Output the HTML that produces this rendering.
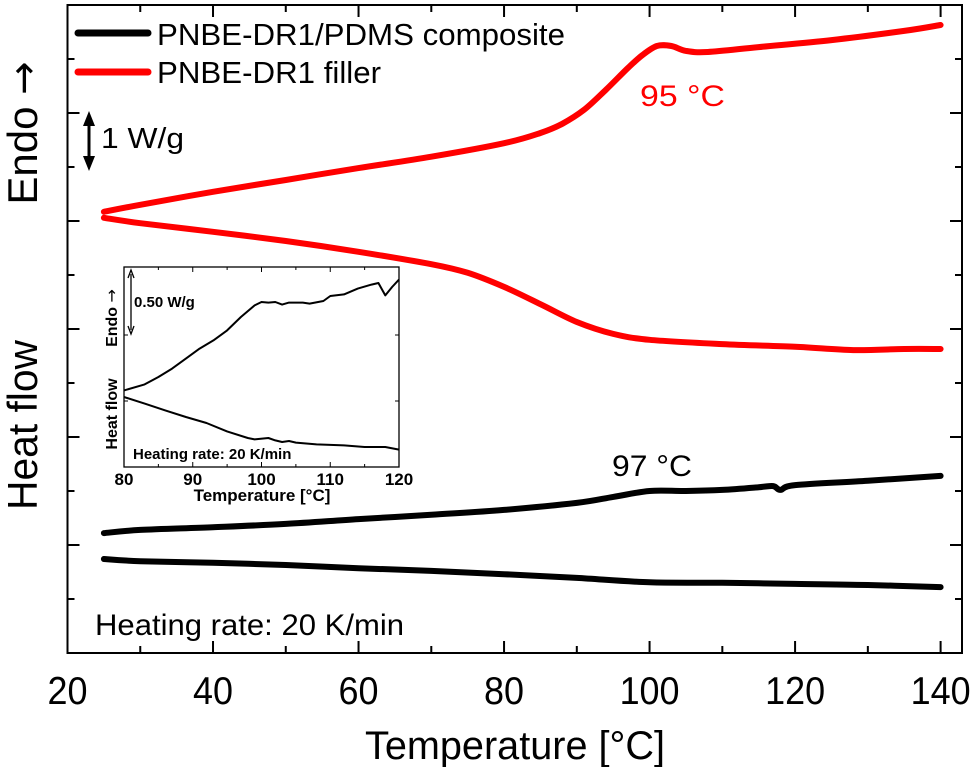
<!DOCTYPE html>
<html><head><meta charset="utf-8"><style>
html,body{margin:0;padding:0;background:#fff;}
svg{display:block;font-family:"Liberation Sans",Arial,sans-serif;}
</style></head><body>
<svg id="chart" width="980" height="767" viewBox="0 0 980 767" xmlns="http://www.w3.org/2000/svg">
<g id="main"></g>
<g id="inset"></g>
</svg>
<script>
// main chart data
const mainRedUpT=[25,30,40,50,60,70,80,85,88,91,94,97,99,101,103,105,108,115,125,135,140];
const mainRedUpV=[8.17,8.30,8.54,8.76,8.98,9.19,9.44,9.63,9.80,10.06,10.43,10.83,11.07,11.24,11.24,11.15,11.13,11.22,11.35,11.52,11.63];
const mainRedLoT=[25,30,40,50,60,70,75,80,85,90,95,100,110,120,128,135,140];
const mainRedLoV=[8.06,7.96,7.80,7.63,7.43,7.20,7.04,6.78,6.46,6.13,5.91,5.80,5.72,5.67,5.61,5.63,5.63];
const mainBlkUpT=[25,30,40,50,60,70,80,90,95,100,105,110,115,117,118,120,130,140];
const mainBlkUpV=[2.22,2.28,2.33,2.39,2.48,2.56,2.65,2.78,2.89,3.00,3.00,3.02,3.07,3.09,3.02,3.11,3.19,3.28];
const mainBlkLoT=[25,30,40,50,60,70,80,90,100,110,120,130,140];
const mainBlkLoV=[1.74,1.70,1.67,1.63,1.57,1.52,1.46,1.39,1.31,1.30,1.28,1.26,1.22];
const mainXTicks=[20,40,60,80,100,120,140];
// inset data
const insUpT=[80,83,85,87,89,91,93,95,97,99,100,101,102,103,104,106,107,109,110,112,114,116,117,118,119,120];
const insUpV=[3.83,4.13,4.5,4.92,5.42,5.92,6.33,6.83,7.5,8.08,8.25,8.22,8.25,8.12,8.22,8.22,8.17,8.3,8.55,8.63,8.92,9.12,9.2,8.58,9.0,9.37];
const insLoT=[80,83,86,89,92,95,98,99,101,102,103,104,105,108,112,115,118,120];
const insLoV=[3.5,3.17,2.83,2.5,2.2,1.78,1.45,1.38,1.45,1.33,1.25,1.3,1.22,1.13,1.08,1.0,1.0,0.87];
const insXTicks=[80,90,100,110,120];

const NS='http://www.w3.org/2000/svg';
function mk(parent,tag,attrs,text){const e=document.createElementNS(NS,tag);for(const k in attrs)e.setAttribute(k,attrs[k]);if(text!==undefined)e.textContent=text;parent.appendChild(e);return e;}
function smooth(ts,vs,fx,fy){
  const p=ts.map((t,i)=>[fx(t),fy(vs[i])]);
  let d='M'+p[0][0].toFixed(1)+','+p[0][1].toFixed(1);
  for(let i=0;i<p.length-1;i++){
    const p0=p[Math.max(0,i-1)],p1=p[i],p2=p[i+1],p3=p[Math.min(p.length-1,i+2)];
    const c1=[p1[0]+(p2[0]-p0[0])/6,p1[1]+(p2[1]-p0[1])/6];
    const c2=[p2[0]-(p3[0]-p1[0])/6,p2[1]-(p3[1]-p1[1])/6];
    d+=` C${c1[0].toFixed(1)},${c1[1].toFixed(1)} ${c2[0].toFixed(1)},${c2[1].toFixed(1)} ${p2[0].toFixed(1)},${p2[1].toFixed(1)}`;
  }
  return d;
}
function pathD(ts,vs,fx,fy){return ts.map((t,i)=>(i?'L':'M')+fx(t).toFixed(1)+','+fy(vs[i]).toFixed(1)).join(' ');}

const L=67.5,R=962,T=5,B=653;
const mx=t=>67.5+(t-20)*(940.6-67.5)/120;
const my=v=>B-v*54;
const main=document.getElementById('main');

let frame=mk(main,'rect',{x:L,y:T,width:R-L,height:B-T,fill:'none',stroke:'#000','stroke-width':2});


for(let t=20;t<=145;t+=10){
  const x=mx(t);if(x>R)break;const len=(t%20===0)?12:7;
  const tk=mk(main,'path',{d:`M${x},${B}V${B-len}M${x},${T}V${T+len}`,stroke:'#000','stroke-width':2});
  
  
}
mainXTicks.forEach(t=>{
  const s=String(t);
  const tl=mk(main,'text',{x:mx(t),y:704,'font-size':39,'text-anchor':'middle',textLength:s.length*20,lengthAdjust:'spacingAndGlyphs'},s);
  
  
});
for(let i=1;i<12;i++){
  const y=my(i);const len=(i%2===0)?12:7;
  const tk=mk(main,'path',{d:`M${L},${y}H${L+len}M${R},${y}H${R-len}`,stroke:'#000','stroke-width':2});
  
  
}
let xt=mk(main,'text',{x:515,y:759,'font-size':40,'text-anchor':'middle',textLength:300,lengthAdjust:'spacingAndGlyphs'},'Temperature [°C]');


let yt=mk(main,'text',{x:0,y:0,'font-size':42,transform:'translate(37,425) rotate(-90)','text-anchor':'middle',textLength:170,lengthAdjust:'spacingAndGlyphs'},'Heat flow');


let yt2=mk(main,'text',{x:0,y:0,'font-size':42,transform:'translate(37,133) rotate(-90)','text-anchor':'middle'},'Endo ');
mk(yt2,'tspan',{'font-family':'"DejaVu Sans",sans-serif','font-size':40},'→');



[[mainRedUpT,mainRedUpV,'#ff0000','red-heating-curve'],[mainRedLoT,mainRedLoV,'#ff0000','red-baseline-curve'],
 [mainBlkUpT,mainBlkUpV,'#000','black-heating-curve'],[mainBlkLoT,mainBlkLoV,'#000','black-baseline-curve']].forEach(s=>{
  const p=mk(main,'path',{d:smooth(s[0],s[1],mx,my),fill:'none',stroke:s[2],'stroke-width':6,'stroke-linecap':'round','stroke-linejoin':'round'});
  
  
});

// legend
let lg1=mk(main,'line',{x1:78,y1:33,x2:148,y2:33,stroke:'#000','stroke-width':7,'stroke-linecap':'round'});


let lt1=mk(main,'text',{x:157,y:45,'font-size':31,textLength:408,lengthAdjust:'spacingAndGlyphs'},'PNBE-DR1/PDMS composite');


let lg2=mk(main,'line',{x1:78,y1:72,x2:148,y2:72,stroke:'#ff0000','stroke-width':7,'stroke-linecap':'round'});


let lt2=mk(main,'text',{x:157,y:83,'font-size':31,textLength:224,lengthAdjust:'spacingAndGlyphs'},'PNBE-DR1 filler');



// scale bar
let sb=mk(main,'path',{d:'M89,122V160',stroke:'#000','stroke-width':3});


let sba=mk(main,'path',{d:'M83,126L89,111L95,126ZM83,156L89,171L95,156Z',fill:'#000'});


let sbt=mk(main,'text',{x:101,y:148,'font-size':29,textLength:83,lengthAdjust:'spacingAndGlyphs'},'1 W/g');



let a1=mk(main,'text',{x:640,y:106,'font-size':30,fill:'#ff0000',textLength:85,lengthAdjust:'spacingAndGlyphs'},'95 °C');


let a2=mk(main,'text',{x:612,y:476,'font-size':30,textLength:80,lengthAdjust:'spacingAndGlyphs'},'97 °C');


let hr=mk(main,'text',{x:95,y:635,'font-size':30,textLength:309,lengthAdjust:'spacingAndGlyphs'},'Heating rate: 20 K/min');



// inset
const iL=124,iR=399,iT=267,iB=467;
const ix=t=>iL+(t-80)*(iR-iL)/40;
const iy=v=>iB-v*20;
const ins=document.getElementById('inset');
let ibg=mk(ins,'rect',{x:iL,y:iT,width:iR-iL,height:iB-iT,fill:'#fff',stroke:'#000','stroke-width':1.3});


for(let t=80;t<=120;t+=5){
  const x=ix(t);const len=(t%10===0)?5:3;
  const tk=mk(ins,'path',{d:`M${x},${iB}V${iB-len}M${x},${iT}V${iT+len}`,stroke:'#000','stroke-width':1});
  
  
}
[3.3,6.6].forEach(v=>{
  const y=iy(v);
  const tk=mk(ins,'path',{d:`M${iL},${y}H${iL+4}M${iR},${y}H${iR-4}`,stroke:'#000','stroke-width':1});
  
  
});
insXTicks.forEach(t=>{
  const tl=mk(ins,'text',{x:ix(t),y:485,'font-size':17,'font-weight':'bold','text-anchor':'middle'},String(t));
  
  
});
let ixt=mk(ins,'text',{x:262,y:501,'font-size':17,'font-weight':'bold','text-anchor':'middle'},'Temperature [°C]');


let iyt=mk(ins,'text',{x:0,y:0,'font-size':16,'font-weight':'bold',transform:'translate(117,414) rotate(-90)','text-anchor':'middle'},'Heat flow');


let iyt2=mk(ins,'text',{x:0,y:0,'font-size':16,'font-weight':'bold',transform:'translate(117,318) rotate(-90)','text-anchor':'middle'},'Endo ');
mk(iyt2,'tspan',{'font-family':'"DejaVu Sans",sans-serif','font-weight':'normal'},'→');


[[insUpT,insUpV,'inset-heating-curve'],[insLoT,insLoV,'inset-baseline-curve']].forEach(s=>{
  const p=mk(ins,'path',{d:pathD(s[0],s[1],ix,iy),fill:'none',stroke:'#000','stroke-width':2,'stroke-linejoin':'round'});
  
  
});
let isb=mk(ins,'path',{d:'M131,274V330M128,278L131,270L134,278M128,326L131,334L134,326',fill:'none',stroke:'#000','stroke-width':1.3});


let isbt=mk(ins,'text',{x:134,y:307,'font-size':15,'font-weight':'bold'},'0.50 W/g');


let ihr=mk(ins,'text',{x:133,y:459,'font-size':15,'font-weight':'bold'},'Heating rate: 20 K/min');


</script>
</body></html>
